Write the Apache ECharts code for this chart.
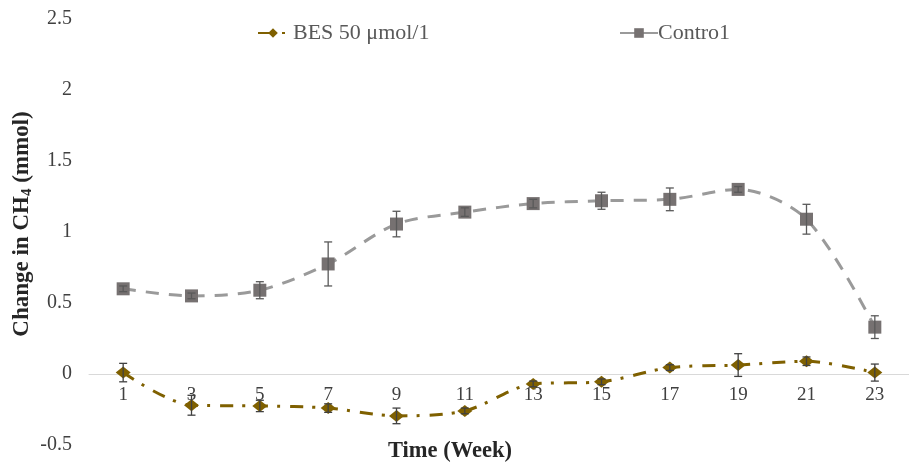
<!DOCTYPE html>
<html>
<head>
<meta charset="utf-8">
<script src="https://cdn.jsdelivr.net/npm/echarts@6/dist/echarts.min.js"></script>
<style>
  html, body { margin: 0; padding: 0; background: #fff; }
  #chart { width: 909px; height: 474px; }
</style>
</head>
<body>
<div id="chart"></div>
<script>
// Weeks on the x axis
const weeks = ['1', '3', '5', '7', '9', '11', '13', '15', '17', '19', '21', '23'];

// Mean change in CH4 (mmol) and its error for each week
const besMean = [0.01, -0.22, -0.225, -0.24, -0.295, -0.26, -0.07, -0.055, 0.045, 0.063, 0.09, 0.01];
const besErr = [0.065, 0.07, 0.04, 0.03, 0.055, 0.02, 0.02, 0.02, 0.02, 0.08, 0.03, 0.06];
const ctrlMean = [0.6, 0.55, 0.59, 0.775, 1.056, 1.14, 1.2, 1.22, 1.23, 1.3, 1.09, 0.33];
const ctrlErr = [0.02, 0.02, 0.06, 0.155, 0.09, 0.03, 0.03, 0.06, 0.08, 0.02, 0.105, 0.08];

// Y axis ticks
const yMin = -0.5, yMax = 2.5, yStep = 0.5;

const BES_NAME = 'BES 50 μmol/1';
const CTRL_NAME = 'Contro1';
const SERIF = 'Liberation Serif';

// Grid geometry: the category axis sits on the zero line
const GRID_TOP = 19, GRID_BOTTOM = 29, CHART_H = 474;
const plotH = CHART_H - GRID_TOP - GRID_BOTTOM;
const zeroShift = plotH * (0 - yMin) / (yMax - yMin);

function errData(mean, err) {
  return mean.map((m, i) => [i, m - err[i], m + err[i]]);
}

function errorBars(color) {
  return function (params, api) {
    const i = api.value(0);
    const lo = api.coord([i, api.value(1)]);
    const hi = api.coord([i, api.value(2)]);
    const half = 4;
    const style = { stroke: color, lineWidth: 1.3 };
    return {
      type: 'group',
      children: [
        { type: 'line', shape: { x1: lo[0], y1: lo[1], x2: hi[0], y2: hi[1] }, style: style },
        { type: 'line', shape: { x1: lo[0] - half, y1: lo[1], x2: lo[0] + half, y2: lo[1] }, style: style },
        { type: 'line', shape: { x1: hi[0] - half, y1: hi[1], x2: hi[0] + half, y2: hi[1] }, style: style }
      ]
    };
  };
}

const chart = echarts.init(document.getElementById('chart'));
chart.setOption({
  animation: false,
  backgroundColor: '#ffffff',
  grid: { left: 89, right: 0, top: GRID_TOP, bottom: GRID_BOTTOM, containLabel: false, outerBoundsMode: 'none' },
  legend: [
    {
      data: [BES_NAME],
      left: 252, top: 17,
      itemWidth: 30, itemHeight: 12, itemGap: 4,
      lineStyle: { type: [15, 9, 3, 8] },
      textStyle: { fontFamily: SERIF, fontSize: 22, color: '#595959', padding: [0, 0, 0, 0] }
    },
    {
      data: [CTRL_NAME],
      left: 614, top: 17,
      itemWidth: 38, itemHeight: 12, itemGap: 0,
      lineStyle: { type: 'solid' },
      textStyle: { fontFamily: SERIF, fontSize: 22, color: '#595959', padding: [0, 0, 0, -5] }
    }
  ],
  xAxis: {
    type: 'category',
    data: weeks,
    boundaryGap: true,
    position: 'bottom',
    offset: -zeroShift,
    axisLine: { onZero: false, lineStyle: { color: '#d9d9d9', width: 1 } },
    axisTick: { show: false },
    axisLabel: { fontFamily: SERIF, fontSize: 19, color: '#404040', margin: 12 },
    splitLine: { show: false }
  },
  yAxis: {
    type: 'value',
    min: yMin, max: yMax, interval: yStep,
    axisLine: { show: false },
    axisTick: { show: false },
    splitLine: { show: false },
    axisLabel: { fontFamily: SERIF, fontSize: 20, color: '#404040', margin: 17 }
  },
  graphic: [
    {
      type: 'text',
      x: 22, y: 224,
      rotation: Math.PI / 2,
      style: {
        text: '{b|Change in CH}{s|4}{b| (mmol)}',
        align: 'center',
        verticalAlign: 'middle',
        rich: {
          b: { fontFamily: SERIF, fontSize: 23, fontWeight: 'bold', fill: '#262626', lineHeight: 26, verticalAlign: 'middle' },
          s: { fontFamily: SERIF, fontSize: 15, fontWeight: 'bold', fill: '#262626', lineHeight: 26, verticalAlign: 'bottom' }
        }
      }
    },
    {
      type: 'text',
      left: 388, top: 440,
      style: { text: 'Time (Week)', font: 'bold 22.5px "Liberation Serif"', fill: '#262626' }
    }
  ],
  series: [
    {
      name: CTRL_NAME,
      type: 'line',
      data: ctrlMean,
      smooth: 0.3,
      symbol: 'rect',
      symbolSize: 13,
      z: 3,
      itemStyle: { color: '#767171' },
      lineStyle: { color: '#9a9a9a', width: 3, type: [13, 10] }
    },
    {
      name: BES_NAME,
      type: 'line',
      data: besMean,
      smooth: 0.3,
      symbol: 'diamond',
      symbolSize: [15, 12],
      z: 3,
      itemStyle: { color: '#7f6000' },
      lineStyle: { color: '#7f6000', width: 3, type: [13, 9, 3, 10] }
    },
    {
      name: 'ctrl-err',
      type: 'custom',
      data: errData(ctrlMean, ctrlErr),
      renderItem: errorBars('#595959'),
      encode: { x: 0, y: [1, 2] },
      z: 4,
      silent: true
    },
    {
      name: 'bes-err',
      type: 'custom',
      data: errData(besMean, besErr),
      renderItem: errorBars('#404040'),
      encode: { x: 0, y: [1, 2] },
      z: 4,
      silent: true
    }
  ]
});
</script>
</body>
</html>
